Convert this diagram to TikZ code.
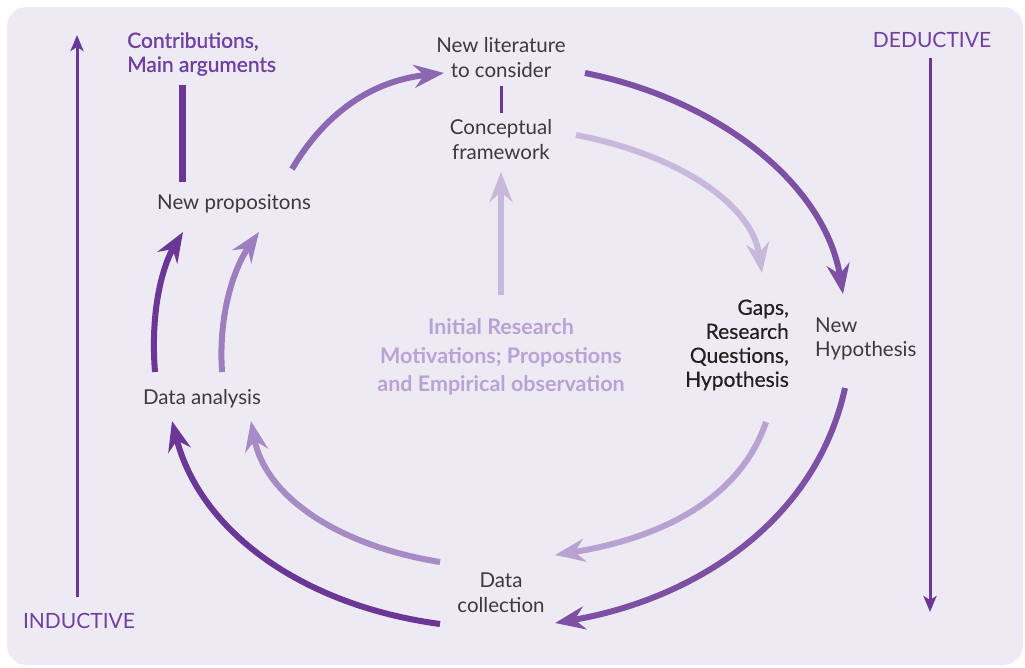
\documentclass[tikz,border=0pt]{standalone}
\usepackage{fontspec}
\setmainfont{Lato}
\newfontfamily\semibold[FakeBold=1]{Lato}
\newfontfamily\medium[FakeBold=0.4]{Lato}
\usetikzlibrary{arrows.meta}
\definecolor{cardbg}{HTML}{EEEAF4}
\definecolor{darkp}{HTML}{6B3796}
\definecolor{medp}{HTML}{7D50A4}
\definecolor{softp}{HTML}{8C68B2}
\definecolor{midp}{HTML}{A68BC5}
\definecolor{midp2}{HTML}{9D7FBF}
\definecolor{palep}{HTML}{B7A2D2}
\definecolor{lightp}{HTML}{C8B8DB}
\definecolor{labelp}{HTML}{7040A0}
\definecolor{motivp}{HTML}{B9A3D3}
\definecolor{textgray}{HTML}{3A3A3A}
\definecolor{textdark}{HTML}{231F20}
\tikzset{
  txt/.style={font=\fontsize{20.5}{25}\selectfont, text=textgray, align=center, inner sep=0pt},
  flow/.style={line width=6pt, -{Stealth[length=30pt,width=23pt,inset=10pt]}},
  axis/.style={line width=3pt, color=darkp, -{Stealth[length=16pt,width=13pt,inset=4pt]}},
  axislabel/.style={font=\fontsize{21}{24}\selectfont, text=labelp, inner sep=0pt}
}
\begin{document}
\begin{tikzpicture}[x=1pt,y=-1pt]
\useasboundingbox (0,0) rectangle (1025,667);
\fill[white] (0,0) rectangle (1025,667);
\fill[cardbg, rounded corners=20pt] (7,7) rectangle (1023,665);

% text nodes
\node[txt] (lit) at (501,58) {New literature\\to consider};
\node[txt] (concept) at (501,140) {Conceptual\\framework};
\node[txt] (newprop) at (234,204) {New propositons};
\node[txt] (analysis) at (202,399) {Data analysis};
\node[txt] (collect) at (501,593) {Data\\collection};
\node[txt, anchor=east, text=textdark, font=\medium\fontsize{21}{24}\selectfont, align=right] (gaps) at (789,345) {Gaps,\\Research\\Questions,\\Hypothesis};
\node[txt, anchor=west, align=left, font=\fontsize{20.5}{24}\selectfont] (newhyp) at (815,339) {New\\Hypothesis};
\node[txt, text=motivp, font=\bfseries\fontsize{21.5}{28.5}\selectfont] (motiv) at (501,357) {Initial Research\\Motivations; Propostions\\and Empirical observation};
\node[axislabel, anchor=west, align=left, font=\semibold\fontsize{21}{24}\selectfont] (contrib) at (127,54) {Contributions,\\Main arguments};
\node[axislabel] (induct) at (79,621) {INDUCTIVE};
\node[axislabel] (deduct) at (932,40) {DEDUCTIVE};

% connector end points
\coordinate (indbot) at (77,597);
\coordinate (indtop) at (77,35);
\coordinate (dedtop) at (930,58);
\coordinate (dedbot) at (930,612);
\coordinate (barA) at (182,85);
\coordinate (barB) at (182,182);
\coordinate (litbar) at (501,86);
\coordinate (conbar) at (501,113);
\coordinate (npout) at (292,169);
\coordinate (litin) at (444,73);
\coordinate (litout) at (585,73);
\coordinate (hypin) at (843,294);
\coordinate (conout) at (576,135);
\coordinate (gapin) at (762,273);
\coordinate (motivout) at (501,295);
\coordinate (conin) at (501,172);
\coordinate (hypout) at (845,388);
\coordinate (colin) at (555,623);
\coordinate (gapout) at (766,422);
\coordinate (colin2) at (555,555);
\coordinate (colout) at (440,624);
\coordinate (anin) at (172,421);
\coordinate (colout2) at (440,562);
\coordinate (anin2) at (251,421);
\coordinate (anout) at (155,372);
\coordinate (npin) at (183,232);
\coordinate (anout2) at (222,372);
\coordinate (npin2) at (259,232);

% inductive / deductive axes
\draw[axis] (indbot) -- (indtop);
\draw[axis] (dedtop) -- (dedbot);

% bars linking labels
\draw[line width=7pt, darkp] (barA) -- (barB);
\draw[line width=3pt, darkp] (litbar) -- (conbar);

% cycle arrows
\draw[flow, softp] (npout) .. controls (330,105) and (380,80) .. (litin);
\draw[flow, medp] (litout) .. controls (720,100) and (825,185) .. (hypin);
\draw[flow, lightp] (conout) .. controls (680,155) and (752,205) .. (gapin);
\draw[flow, lightp] (motivout) -- (conin);
\draw[flow, medp] (hypout) .. controls (815,525) and (690,600) .. (colin);
\draw[flow, palep] (gapout) .. controls (738,505) and (650,540) .. (colin2);
\draw[flow, darkp] (colout) .. controls (300,605) and (200,530) .. (anin);
\draw[flow, midp] (colout2) .. controls (335,545) and (265,495) .. (anin2);
\draw[flow, darkp] (anout) .. controls (150,310) and (163,265) .. (npin);
\draw[flow, midp2] (anout2) .. controls (218,310) and (236,265) .. (npin2);
\end{tikzpicture}
\end{document}
